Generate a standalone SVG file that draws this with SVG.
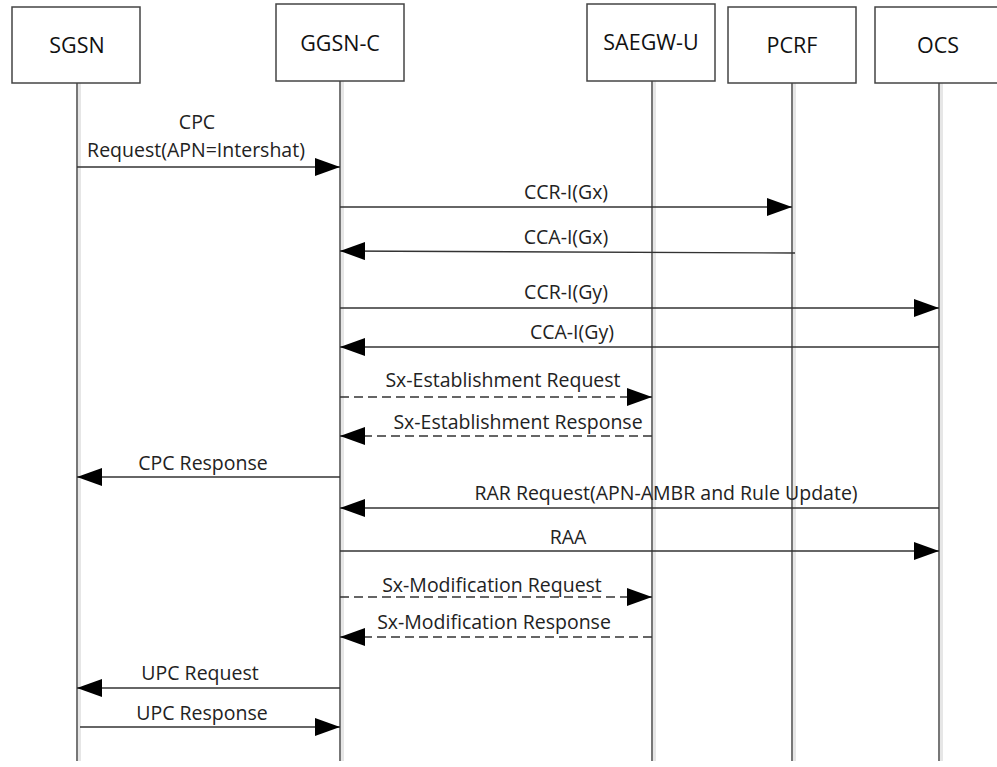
<svg xmlns="http://www.w3.org/2000/svg" width="997" height="767" viewBox="0 0 997 767">
<defs>
<style>
.box{fill:#fff;stroke:#444;stroke-width:1.5}
.life{stroke:#777;stroke-width:2}
.halo{stroke:#e6e6e6;stroke-width:4}
.title{font-family:"Open Sans","Liberation Sans",sans-serif;font-size:21.5px;fill:#111;text-anchor:middle}
.lbl{font-family:"Open Sans","Liberation Sans",sans-serif;font-size:19.5px;fill:#222;text-anchor:middle}
.msg{stroke:#333;stroke-width:1.4;fill:none}
.dash{stroke-dasharray:9 5;stroke-width:1.7}
</style>
<marker id="ah" viewBox="0 0 25 18" refX="25" refY="9" markerWidth="25" markerHeight="18" markerUnits="userSpaceOnUse" orient="auto">
<path d="M0,0 L25,9 L0,18 Z" fill="#000"/>
</marker>
</defs>
<rect width="997" height="767" fill="#fff"/>
<g id="lifelines">
<line class="halo" x1="79" y1="83" x2="79" y2="761"/>
<line class="life" x1="77" y1="83" x2="77" y2="761"/>
<line class="halo" x1="342" y1="81" x2="342" y2="761"/>
<line class="life" x1="340" y1="81" x2="340" y2="761"/>
<line class="halo" x1="654" y1="81" x2="654" y2="761"/>
<line class="life" x1="652" y1="81" x2="652" y2="761"/>
<line class="halo" x1="794" y1="83" x2="794" y2="761"/>
<line class="life" x1="792" y1="83" x2="792" y2="761"/>
<line class="halo" x1="941" y1="83" x2="941" y2="761"/>
<line class="life" x1="939" y1="83" x2="939" y2="761"/>
</g>
<g id="SGSN"><rect class="box" x="12" y="7" width="128" height="76"/><text class="title" x="77" y="53">SGSN</text></g>
<g id="GGSN-C"><rect class="box" x="276" y="4" width="128" height="77"/><text class="title" x="340" y="51">GGSN-C</text></g>
<g id="SAEGW-U"><rect class="box" x="587" y="4" width="128" height="77"/><text class="title" x="651" y="50">SAEGW-U</text></g>
<g id="PCRF"><rect class="box" x="728" y="7" width="128" height="76"/><text class="title" x="792" y="53">PCRF</text></g>
<g id="OCS"><rect class="box" x="875" y="7" width="130" height="76"/><text class="title" x="938" y="53">OCS</text></g>
<g id="connectors">
<line class="msg" x1="77" y1="167" x2="340" y2="167" marker-end="url(#ah)"/>
<line class="msg" x1="340" y1="207" x2="792" y2="207" marker-end="url(#ah)"/>
<line class="msg" x1="795" y1="253" x2="340" y2="251" marker-end="url(#ah)"/>
<line class="msg" x1="340" y1="308" x2="939" y2="308" marker-end="url(#ah)"/>
<line class="msg" x1="939" y1="347" x2="340" y2="347" marker-end="url(#ah)"/>
<line class="msg dash" x1="340" y1="397" x2="652" y2="397" marker-end="url(#ah)"/>
<line class="msg dash" x1="652" y1="436" x2="340" y2="436" marker-end="url(#ah)"/>
<line class="msg" x1="340" y1="477" x2="77" y2="477" marker-end="url(#ah)"/>
<line class="msg" x1="939" y1="508" x2="340" y2="508" marker-end="url(#ah)"/>
<line class="msg" x1="340" y1="551" x2="939" y2="551" marker-end="url(#ah)"/>
<line class="msg dash" x1="340" y1="597" x2="652" y2="597" marker-end="url(#ah)"/>
<line class="msg dash" x1="652" y1="637" x2="340" y2="637" marker-end="url(#ah)"/>
<line class="msg" x1="340" y1="688" x2="77" y2="688" marker-end="url(#ah)"/>
<line class="msg" x1="80" y1="727" x2="340" y2="727" marker-end="url(#ah)"/>
</g>
<g id="labels">
<text class="lbl" x="197" y="129">CPC</text>
<text class="lbl" x="196" y="157">Request(APN=Intershat)</text>
<text class="lbl" x="566" y="199">CCR-I(Gx)</text>
<text class="lbl" x="566" y="244">CCA-I(Gx)</text>
<text class="lbl" x="566" y="299">CCR-I(Gy)</text>
<text class="lbl" x="572" y="339">CCA-I(Gy)</text>
<text class="lbl" x="503" y="387">Sx-Establishment Request</text>
<text class="lbl" x="518" y="429">Sx-Establishment Response</text>
<text class="lbl" x="203" y="470">CPC Response</text>
<text class="lbl" x="666" y="500">RAR Request(APN-AMBR and Rule Update)</text>
<text class="lbl" x="568" y="544">RAA</text>
<text class="lbl" x="492" y="592">Sx-Modification Request</text>
<text class="lbl" x="494" y="629">Sx-Modification Response</text>
<text class="lbl" x="200" y="680">UPC Request</text>
<text class="lbl" x="202" y="720">UPC Response</text>
</g>
</svg>
